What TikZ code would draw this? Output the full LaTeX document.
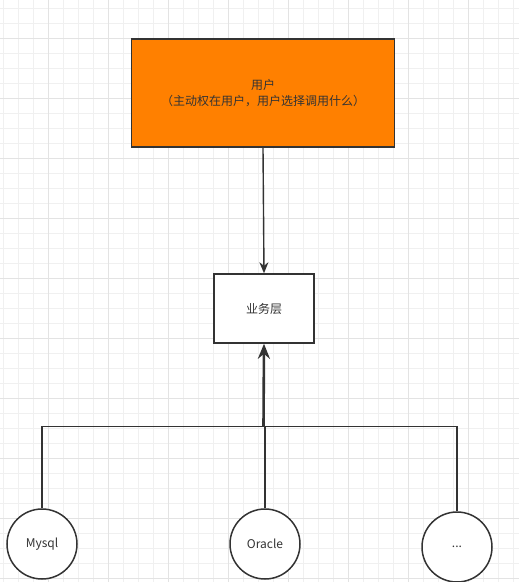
\documentclass[tikz,border=0pt]{standalone}
\usepackage{fontspec}
\setmainfont{Noto Sans CJK SC}
\usetikzlibrary{arrows.meta}
\definecolor{boxorange}{HTML}{FF8000}
\definecolor{inkgray}{HTML}{333333}
\begin{document}
\begin{tikzpicture}[x=1pt, y=-1pt, font=\fontsize{12}{16}\selectfont,
	boxnode/.style={draw=inkgray, line width=1.5pt, align=center, inner sep=0pt, text=inkgray},
	dbnode/.style={circle, draw=inkgray, line width=1.5pt, minimum size=70pt, inner sep=0pt, text=inkgray},
	wire/.style={draw=inkgray, line width=1.4pt},
	link/.style={wire, -{Stealth[length=11pt,width=9pt]}}]%三层结构
	
	\useasboundingbox (0,0) rectangle (519,582);
	\fill[white] (0,0) rectangle (519,582);
	
	\foreach \k in {3,18,...,519} {
		\draw[gray!12, line width=.6pt] (\k,0) -- (\k,582);}
	\foreach \k in {8,23,...,582} {
		\draw[gray!12, line width=.6pt] (0,\k) -- (519,\k);}
	\foreach \k in {48,108,...,519} {
		\draw[gray!22, line width=.8pt] (\k,0) -- (\k,582);}
	\foreach \k in {38,98,...,582} {
		\draw[gray!22, line width=.8pt] (0,\k) -- (519,\k);}
	
	\node[boxnode, fill=boxorange, minimum width=263pt, minimum height=108pt] (user) at (263,93)
		{用户\\（主动权在用户，用户选择调用什么）};
	\node[boxnode, fill=white, minimum width=100pt, minimum height=69pt] (biz) at (264,308.5) {业务层};
	
	\node[dbnode, fill=white] (mysql) at (42,544) {Mysql};
	\node[dbnode, fill=white] (oracle) at (265,544) {Oracle};
	\node[dbnode, fill=white] (more) at (457,547) {...};
	
	\coordinate (jn) at (263.5,426.5);
	
	\draw[link] (user.south) -- (biz.north);
	\draw[wire] (mysql.north) |- (jn);
	\draw[wire] (oracle.north) |- (jn);
	\draw[wire] (more.north) |- (jn);
	\draw[wire, line width=2.6pt, -{Stealth[length=15pt,width=12pt]}] (jn) -- (biz.south);
\end{tikzpicture}
\end{document}
